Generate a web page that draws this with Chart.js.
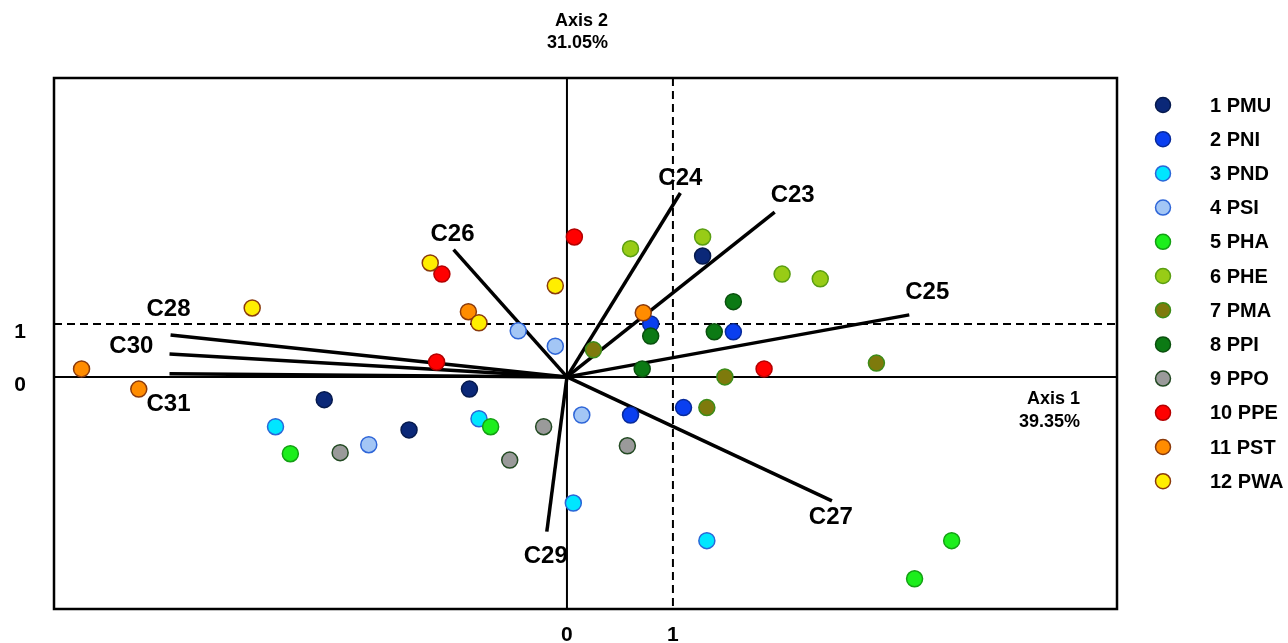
<!DOCTYPE html>
<html>
<head>
<meta charset="utf-8">
<script src="https://cdn.jsdelivr.net/npm/chart.js@4.4.0/dist/chart.umd.min.js"></script>
<style>
  html, body { margin: 0; padding: 0; background: #fff; }
  #wrap { width: 1288px; height: 643px; position: relative; }
</style>
</head>
<body>
<div id="wrap"><canvas id="pca"></canvas></div>
<script>
// group names (legend)
const groupNames = ['1 PMU', '2 PNI', '3 PND', '4 PSI', '5 PHA', '6 PHE', '7 PMA', '8 PPI', '9 PPO', '10 PPE', '11 PST', '12 PWA'];

// scores on axis 1 / axis 2
const pmuX = [1.28, -2.29, -1.49, -0.92];
const pmuY = [2.28, -0.43, -1.00, -0.23];
const pniX = [0.79, 1.57, 0.60, 1.10];
const pniY = [1.00, 0.85, -0.72, -0.58];
const pndX = [-2.75, -0.83, 0.06, 1.32];
const pndY = [-0.94, -0.79, -2.38, -3.09];
const psiX = [-0.46, -0.11, -1.87, 0.14];
const psiY = [0.87, 0.58, -1.28, -0.72];
const phaX = [-0.72, -2.61, 3.63, 3.28];
const phaY = [-0.94, -1.45, -3.09, -3.81];
const pheX = [0.60, 1.28, 2.03, 2.39];
const pheY = [2.42, 2.64, 1.94, 1.85];
const pmaX = [0.25, 1.49, 2.92, 1.32];
const pmaY = [0.51, 0.00, 0.26, -0.58];
const ppiX = [1.57, 0.79, 1.39, 0.71];
const ppiY = [1.42, 0.77, 0.85, 0.15];
const ppoX = [-0.22, -0.54, -2.14, 0.57];
const ppoY = [-0.94, -1.57, -1.43, -1.30];
const ppeX = [0.07, -1.18, -1.23, 1.86];
const ppeY = [2.64, 1.94, 0.28, 0.15];
const pstX = [0.72, -0.93, -4.58, -4.04];
const pstY = [1.21, 1.23, 0.15, -0.23];
const pwaX = [-1.29, -0.11, -2.97, -0.83];
const pwaY = [2.15, 1.72, 1.30, 1.02];

// character vectors
const vecNames = ['C23', 'C24', 'C25', 'C26', 'C27', 'C28', 'C29', 'C30', 'C31'];
const vecX = [1.96, 1.07, 3.23, -1.07, 2.50, -3.74, -0.19, -3.75, -3.75];
const vecY = [3.11, 3.47, 1.17, 2.40, -2.34, 0.79, -2.92, 0.43, 0.06];
const vecLabelX = [2.13, 1.07, 3.40, -1.08, 2.49, -3.76, -0.20, -4.11, -3.76];
const vecLabelY = [3.42, 3.74, 1.60, 2.68, -2.66, 1.28, -3.38, 0.57, -0.51];

// axis ticks and titles
const axisTicks = [0, 1];
const axis1Title = ['Axis 1', '39.35%'];
const axis2Title = ['Axis 2', '31.05%'];

const groupX = [pmuX, pniX, pndX, psiX, phaX, pheX, pmaX, ppiX, ppoX, ppeX, pstX, pwaX];
const groupY = [pmuY, pniY, pndY, psiY, phaY, pheY, pmaY, ppiY, ppoY, ppeY, pstY, pwaY];

const fills = ['#0b2878', '#0a3ff0', '#00e6ff', '#a3c6f5', '#1cee1c', '#98cc16', '#7e7a0c', '#0c7a14', '#9a9a9a', '#ff0000', '#ff8c00', '#ffee00'];
const strokes = ['#061a4e', '#082a9a', '#2a66d8', '#2f66d8', '#14a014', '#5a9e12', '#3c8c18', '#0a500e', '#234a23', '#b40000', '#8a3a0c', '#8a3a0c'];

const FONT = '"Liberation Sans", Arial, sans-serif';

const datasets = [];
groupNames.forEach((name, i) => {
    datasets.push({
        label: name,
        data: groupX[i].map((x, j) => ({ x: x, y: groupY[i][j] })),
        backgroundColor: fills[i],
        borderColor: strokes[i],
        borderWidth: 1.5,
        pointRadius: 8,
        pointHoverRadius: 8,
        showLine: false,
        order: 11 - i,
        isGroup: true
    });
});
vecNames.forEach((name, i) => {
    datasets.push({
        label: name,
        data: [{ x: 0, y: 0 }, { x: vecX[i], y: vecY[i] }],
        showLine: true,
        borderColor: '#000',
        borderWidth: 3.5,
        pointRadius: 0,
        order: 20,
        isGroup: false
    });
});

const decor = {
    id: 'decor',
    beforeDatasetsDraw(chart) {
        const { ctx, chartArea: a, scales: { x, y } } = chart;
        ctx.save();
        ctx.strokeStyle = '#000';
        ctx.lineWidth = 2;
        // dashed lines at 1
        ctx.setLineDash([8, 5]);
        ctx.beginPath();
        ctx.moveTo(x.getPixelForValue(1), a.top);
        ctx.lineTo(x.getPixelForValue(1), a.bottom);
        ctx.moveTo(a.left, y.getPixelForValue(1));
        ctx.lineTo(a.right, y.getPixelForValue(1));
        ctx.stroke();
        // solid axes at 0
        ctx.setLineDash([]);
        ctx.beginPath();
        ctx.moveTo(x.getPixelForValue(0), a.top);
        ctx.lineTo(x.getPixelForValue(0), a.bottom);
        ctx.moveTo(a.left, y.getPixelForValue(0));
        ctx.lineTo(a.right, y.getPixelForValue(0));
        ctx.stroke();
        ctx.restore();
    },
    afterDatasetsDraw(chart) {
        const { ctx, chartArea: a, scales: { x, y } } = chart;
        ctx.save();
        // frame
        ctx.strokeStyle = '#000';
        ctx.lineWidth = 2.5;
        ctx.strokeRect(a.left, a.top, a.right - a.left, a.bottom - a.top);

        ctx.fillStyle = '#000';
        // vector labels
        ctx.font = 'bold 24px ' + FONT;
        ctx.textAlign = 'center';
        ctx.textBaseline = 'middle';
        vecNames.forEach((n, i) => {
            ctx.fillText(n, x.getPixelForValue(vecLabelX[i]), y.getPixelForValue(vecLabelY[i]));
        });

        // axis titles
        ctx.font = 'bold 18px ' + FONT;
        ctx.textAlign = 'right';
        const x0 = x.getPixelForValue(0);
        ctx.fillText(axis2Title[0], x0 + 41, 21);
        ctx.fillText(axis2Title[1], x0 + 41, 43);
        const y0 = y.getPixelForValue(0);
        ctx.fillText(axis1Title[0], a.right - 37, y0 + 22);
        ctx.fillText(axis1Title[1], a.right - 37, y0 + 45);

        // legend
        ctx.textAlign = 'left';
        ctx.font = 'bold 20px ' + FONT;
        chart.data.datasets.filter(d => d.isGroup).forEach((d, i) => {
            const cy = 105 + i * 34.2;
            ctx.beginPath();
            ctx.arc(a.right + 46, cy, 7.5, 0, Math.PI * 2);
            ctx.fillStyle = d.backgroundColor;
            ctx.fill();
            ctx.lineWidth = 1.5;
            ctx.strokeStyle = d.borderColor;
            ctx.stroke();
            ctx.fillStyle = '#000';
            ctx.fillText(d.label, a.right + 93, cy + 1);
        });
        ctx.restore();
    }
};

new Chart(document.getElementById('pca'), {
    type: 'scatter',
    data: { datasets: datasets },
    options: {
        responsive: true,
        maintainAspectRatio: false,
        animation: false,
        events: [],
        layout: { autoPadding: false, padding: { left: 0, top: 78, right: 171, bottom: 0 } },
        plugins: {
            legend: { display: false },
            tooltip: { enabled: false }
        },
        scales: {
            x: {
                type: 'linear',
                min: -4.84,
                max: 5.19,
                afterBuildTicks: s => { s.ticks = axisTicks.map(v => ({ value: v })); },
                afterFit: s => { s.height = 34; s.paddingLeft = 0; s.paddingRight = 0; },
                grid: { display: false, drawTicks: false },
                border: { display: false },
                ticks: {
                    padding: 14,
                    color: '#000',
                    font: { family: FONT, size: 21, weight: 'bold' },
                    maxRotation: 0
                }
            },
            y: {
                type: 'linear',
                min: -4.38,
                max: 5.64,
                afterBuildTicks: s => { s.ticks = axisTicks.map(v => ({ value: v })); },
                afterFit: s => { s.width = 54; s.paddingTop = 0; s.paddingBottom = 0; },
                grid: { display: false, drawTicks: false },
                border: { display: false },
                ticks: {
                    padding: 28,
                    labelOffset: 8,
                    color: '#000',
                    font: { family: FONT, size: 21, weight: 'bold' }
                }
            }
        }
    },
    plugins: [decor]
});
</script>
</body>
</html>
